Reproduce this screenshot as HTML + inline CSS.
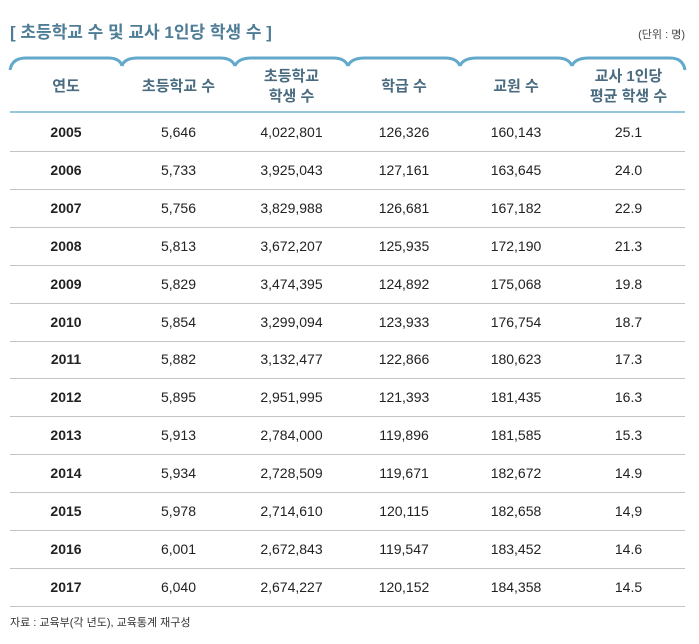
<!DOCTYPE html>
<html><head><meta charset="utf-8"><style>
body{margin:0;width:699px;height:644px;background:#fff;font-family:"Liberation Sans","Noto Sans CJK KR",sans-serif;position:relative;overflow:hidden}
.t{position:absolute;left:10px;top:18px;font-size:17px;font-weight:bold;color:#4f7d97}
.u{position:absolute;right:14px;top:26px;font-size:11px;color:#444}
.h{position:absolute;top:62px;height:50px;display:flex;align-items:center;justify-content:center;text-align:center;font-size:15px;font-weight:bold;color:#4a6b80;line-height:20px}
.r{position:absolute;left:10px;width:675px;height:38px;border-bottom:1px solid #c4c4c4;display:flex;font-size:14px;color:#222}
.r div{display:flex;align-items:center;justify-content:center}
.f{position:absolute;left:10px;top:614px;font-size:11px;color:#333}
</style></head><body>
<div class="t">[ 초등학교 수 및 교사 1인당 학생 수 ]</div>
<div class="u">(단위 : 명)</div>
<svg style="position:absolute;left:0;top:0" width="699" height="120">
<g fill="none" stroke="#62a9cc" stroke-width="3">
<path d="M10,70 Q12,58 26,58 L108,58 Q120,58 122,66"/>
<path d="M122,66 Q124,58 138,58 L220,58 Q232,58 235,66"/>
<path d="M235,66 Q238,58 252,58 L333,58 Q345,58 348,66"/>
<path d="M348,66 Q351,58 365,58 L445,58 Q457,58 460,66"/>
<path d="M460,66 Q463,58 477,58 L557,58 Q569,58 572,66"/>
<path d="M572,66 Q575,58 589,58 L670,58 Q683,58 685,70"/>
</g>
<line x1="10" y1="112" x2="685" y2="112" stroke="#72b3d3" stroke-width="1.5"/>
</svg>
<div class="h" style="left:10px;width:112px">연도</div>
<div class="h" style="left:122px;width:113px">초등학교 수</div>
<div class="h" style="left:235px;width:113px">초등학교<br>학생 수</div>
<div class="h" style="left:348px;width:112px">학급 수</div>
<div class="h" style="left:460px;width:112px">교원 수</div>
<div class="h" style="left:572px;width:113px">교사 1인당<br>평균 학생 수</div>
<div id="rows"></div>
<div class="f">자료 : 교육부(각 년도), 교육통계 재구성</div>
<script>
var d=[["2005","5,646","4,022,801","126,326","160,143","25.1"],["2006","5,733","3,925,043","127,161","163,645","24.0"],["2007","5,756","3,829,988","126,681","167,182","22.9"],["2008","5,813","3,672,207","125,935","172,190","21.3"],["2009","5,829","3,474,395","124,892","175,068","19.8"],["2010","5,854","3,299,094","123,933","176,754","18.7"],["2011","5,882","3,132,477","122,866","180,623","17.3"],["2012","5,895","2,951,995","121,393","181,435","16.3"],["2013","5,913","2,784,000","119,896","181,585","15.3"],["2014","5,934","2,728,509","119,671","182,672","14.9"],["2015","5,978","2,714,610","120,115","182,658","14,9"],["2016","6,001","2,672,843","119,547","183,452","14.6"],["2017","6,040","2,674,227","120,152","184,358","14.5"]];
var w=[112,113,113,112,112,113],h="";
d.forEach(function(r,i){h+='<div class="r" style="top:'+(113+i*37.9)+'px">';r.forEach(function(c,j){h+='<div style="width:'+w[j]+'px'+(j==0?';font-weight:bold':'')+'">'+c+'</div>'});h+='</div>'});
document.getElementById('rows').outerHTML=h;
</script>
</body></html>
